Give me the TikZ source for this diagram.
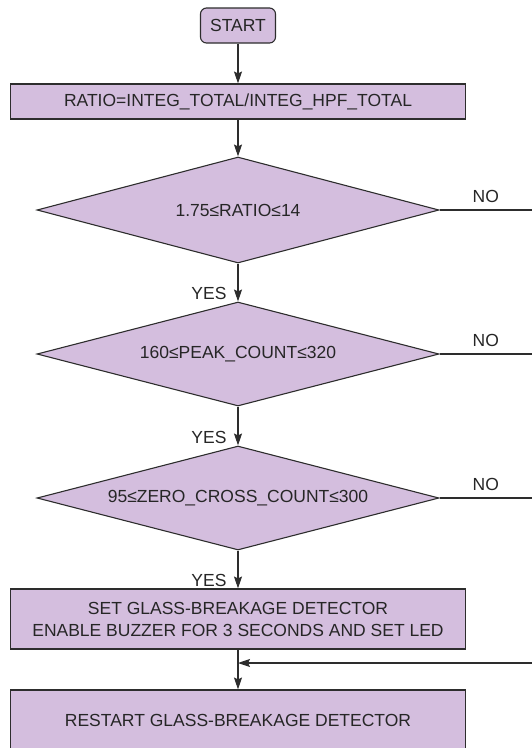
\documentclass[tikz,border=0pt]{standalone}
\usepackage{fontspec}
\setmainfont{Liberation Sans}
\usepackage{xcolor}
\usepackage{tikz}
\usetikzlibrary{arrows.meta,shapes.geometric}
\definecolor{chartfill}{RGB}{212,190,222}
\definecolor{chartline}{RGB}{45,45,45}
\tikzset{
every node/.style={font=\fontsize{17.5}{21}\selectfont, text=black!85},
flow/.style={draw=chartline, line width=1.1pt, -{Stealth[length=12pt,width=8pt,inset=2pt]}},
wire/.style={draw=chartline, line width=1.1pt},
startbox/.style={draw=chartline, fill=chartfill, line width=1.1pt, rounded corners=6pt, minimum width=75pt, minimum height=35pt, inner sep=0pt},
process/.style={draw=chartline, fill=chartfill, line width=1.1pt, minimum width=455pt, align=center, inner sep=0pt},
decision/.style={diamond, aspect=3.87, draw=chartline, fill=chartfill, line width=1.1pt, minimum width=402pt, minimum height=104pt, inner sep=0pt},
answer/.style={inner sep=0pt}
}

\begin{document}
\begin{tikzpicture}[x=1pt,y=-1pt]
  \useasboundingbox (0,0) rectangle (532,748);
  \node[startbox] (start) at (238,25.5) {START};
  \node[process, minimum height=35pt] (ratio) at (238,101.5) {RATIO=INTEG\_TOTAL/INTEG\_HPF\_TOTAL};
  \node[decision, aspect=3.8, minimum height=106pt] (ratiochk) at (238,210) {1.75≤RATIO≤14};
  \node[decision] (peakchk) at (238,354) {160≤PEAK\_COUNT≤320};
  \node[decision] (zerochk) at (238,498) {95≤ZERO\_CROSS\_COUNT≤300};
  \node[process, minimum height=60pt] (alarm) at (238,619) {SET GLASS-BREAKAGE DETECTOR\\[1pt]ENABLE BUZZER FOR 3 SECONDS AND SET LED};
  \node[process, minimum height=60pt] (restart) at (238,720) {RESTART GLASS-BREAKAGE DETECTOR};
  \coordinate (no1) at (532,210);
  \coordinate (no2) at (532,354);
  \coordinate (no3) at (532,498);
  \coordinate (back) at (532,663);
  \draw[flow] (start) -- (ratio);
  \draw[flow] (ratio) -- (ratiochk);
  \draw[flow] (ratiochk) -- (peakchk) node[answer, pos=0.8, left=11pt] {YES};
  \draw[flow] (peakchk) -- (zerochk) node[answer, pos=0.8, left=11pt] {YES};
  \draw[flow] (zerochk) -- (alarm) node[answer, pos=0.8, left=11pt] {YES};
  \draw[flow] (alarm) -- (restart);
  \draw[wire] (ratiochk.east) -- (no1) node[answer, midway, above=7pt] {NO};
  \draw[wire] (peakchk.east) -- (no2) node[answer, midway, above=7pt] {NO};
  \draw[wire] (zerochk.east) -- (no3) node[answer, midway, above=7pt] {NO};
  \draw[flow] (back) -- (back -| alarm.south);
\end{tikzpicture}
\end{document}
